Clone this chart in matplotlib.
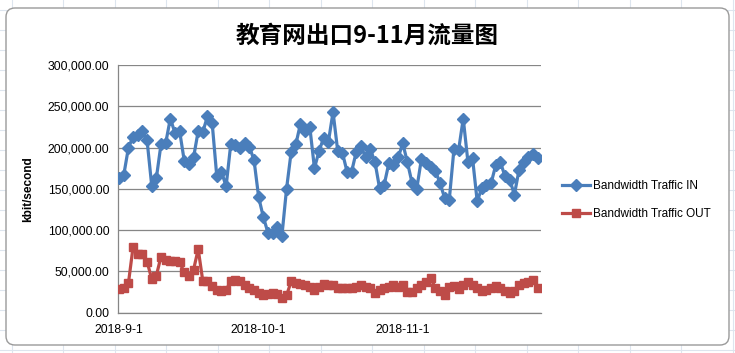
import numpy as np
import pandas as pd
import matplotlib
matplotlib.use("Agg")
import matplotlib.pyplot as plt
from matplotlib.patches import FancyBboxPatch
from matplotlib.transforms import IdentityTransform
from matplotlib.ticker import FuncFormatter

plt.rcParams['font.family'] = ['Liberation Sans', 'Noto Sans CJK SC', 'DejaVu Sans']

# data (kbit/second, thousands)
dates = pd.date_range('2018-09-01', '2018-11-30', freq='D')
traffic_in = [163, 167, 200, 213, 215, 220, 209, 154, 163, 204, 205, 235, 218, 220, 184, 180, 188, 220,
              219, 238, 230, 165, 171, 153, 204, 203, 200, 206, 201, 185, 140, 116, 97, 96, 104, 93,
              150, 195, 204, 229, 220, 225, 175, 196,
              212, 207, 243, 196, 194, 171, 171, 195, 202, 188, 198, 183, 151, 155, 181, 179, 188, 205,
              182, 157, 150, 186, 181,
              176, 172, 157, 139, 137, 198, 197, 235, 183, 187, 135, 151, 155, 157, 179, 182, 165, 161,
              143, 173, 183, 188, 192, 187]
traffic_out = [29, 30, 36, 80, 71, 71, 62, 41, 45, 68, 64, 63, 63, 61, 49, 44, 52, 77,
               38, 38, 32, 28, 26, 27,
               39, 40, 38, 34, 30, 27, 24, 22, 23, 24, 23, 18, 21, 38, 36, 35, 33, 31, 28, 31,
               35, 34, 34, 30, 30, 30, 30, 31, 33, 31, 30, 24, 27, 30, 31, 33, 31, 34, 25, 25, 30, 33, 37,
               42, 30, 26, 22, 31, 32, 29, 34, 37, 33, 30, 26, 28, 30, 32, 30, 26, 24, 26, 34, 36, 37, 40, 30]
traffic_in = np.array(traffic_in) * 1000
traffic_out = np.array(traffic_out) * 1000

tick_dates = pd.to_datetime(['2018-09-01', '2018-10-01', '2018-11-01'])
tick_labels = ['2018-9-1', '2018-10-1', '2018-11-1']
title = '教育网出口9-11月流量图'

fig = plt.figure(figsize=(7.35, 3.53), dpi=100)
fig.patch.set_facecolor('white')

# faint spreadsheet cells behind the chart
for x in np.arange(11.5, 735, 51.5):
    fig.add_artist(plt.Line2D([x, x], [0, 353], transform=IdentityTransform(),
                              color='#dde5ee', lw=0.8, zorder=0))
for y in np.arange(3, 353, 20):
    fig.add_artist(plt.Line2D([0, 735], [y, y], transform=IdentityTransform(),
                              color='#dde5ee', lw=0.8, zorder=0))

box = FancyBboxPatch((6, 8), 723, 337, boxstyle='round,pad=0,rounding_size=9',
                     transform=IdentityTransform(), facecolor='white',
                     edgecolor='#9a9a9a', lw=1.0, zorder=1)
fig.add_artist(box)

ax = fig.add_axes([0.16, 0.114, 0.5757, 0.702])
ax.set_facecolor('none')
ax.set_zorder(2)

ax.plot(dates, traffic_in, color='#4A7EBB', lw=2.3, marker='D', ms=6.0,
        label='Bandwidth Traffic IN', zorder=3)
ax.plot(dates, traffic_out, color='#BE4B48', lw=2.3, marker='s', ms=6.3,
        label='Bandwidth Traffic OUT', zorder=3)

ax.set_ylim(0, 300000)
ax.set_yticks(np.arange(0, 300001, 50000))
ax.yaxis.set_major_formatter(FuncFormatter(lambda v, p: f'{v:,.2f}'))
ax.grid(axis='y', color='#868686', lw=0.9)
ax.set_axisbelow(True)

ax.set_xlim(dates[0] - pd.Timedelta(hours=8), dates[-1] + pd.Timedelta(hours=16))
ax.set_xticks(tick_dates)
ax.set_xticklabels(tick_labels)

for s in ['top', 'right']:
    ax.spines[s].set_visible(False)
for s in ['left', 'bottom']:
    ax.spines[s].set_color('#868686')
    ax.spines[s].set_linewidth(0.9)
ax.tick_params(axis='both', length=0, labelsize=8.8, colors='black')
ax.tick_params(axis='y', pad=6)
ax.tick_params(axis='x', pad=8)

ax.set_ylabel('kbit/second', fontsize=8.5, fontweight='bold', labelpad=10)

fig.text(0.5, 0.9, title, ha='center', va='center', fontsize=17, fontweight='bold',
         family=['Noto Sans CJK SC', 'DejaVu Sans'])

ax.legend(loc='center left', bbox_to_anchor=(1.025, 0.455), frameon=False, fontsize=8.5,
          handlelength=2.4, handletextpad=0.25, labelspacing=1.35)

fig.savefig('out.png', dpi=100)
